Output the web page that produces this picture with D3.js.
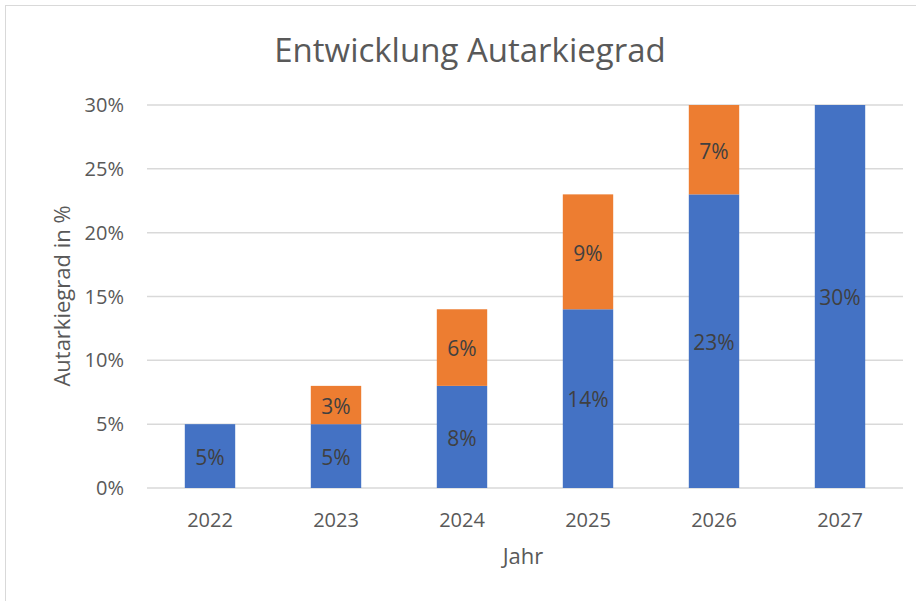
<!DOCTYPE html>
<html>
<head>
<meta charset="utf-8">
<script src="https://cdn.jsdelivr.net/npm/d3@7"></script>
<style>
  body { margin: 0; background: #fff; }
  text { font-family: "Open Sans", sans-serif; }
</style>
</head>
<body>
<div class="chart"></div>
<script>
var years = ['2022', '2023', '2024', '2025', '2026', '2027'];
var baseValues = [5, 5, 8, 14, 23, 30];
var addValues = [0, 3, 6, 9, 7, 0];
var yTicks = [0, 5, 10, 15, 20, 25, 30];
var seriesColors = ['#4472C4', '#ED7D31'];

var width = 916, height = 601,
    margin = { top: 105, right: 13, bottom: 113, left: 147 };

var svg = d3.select('.chart').append('svg')
    .attr('width', width)
    .attr('height', height);

svg.append('rect')
    .attr('x', 5.5).attr('y', 5.5)
    .attr('width', 940).attr('height', 640)
    .attr('fill', '#fff')
    .attr('stroke', '#d9d9d9');

var x = d3.scaleBand()
    .domain(years)
    .range([margin.left, width - margin.right])
    .paddingInner(0.6)
    .paddingOuter(0.3);

var y = d3.scaleLinear()
    .domain([0, 30])
    .range([height - margin.bottom, margin.top]);

// gridlines
svg.append('g')
  .selectAll('line')
    .data(yTicks)
  .enter().append('line')
    .attr('x1', margin.left)
    .attr('x2', width - margin.right)
    .attr('y1', function(d){ return y(d); })
    .attr('y2', function(d){ return y(d); })
    .attr('stroke', '#d9d9d9')
    .attr('stroke-width', 1.5);

// stacked data
var rows = years.map(function(yr, i){
  return { year: yr, base: baseValues[i], add: addValues[i] };
});
var stack = d3.stack().keys(['base', 'add'])(rows);

var layers = svg.append('g')
  .selectAll('g')
    .data(stack)
  .enter().append('g')
    .attr('fill', function(d, i){ return seriesColors[i]; });

var segs = layers.selectAll('g')
    .data(function(d){ return d.filter(function(s){ return s[1] - s[0] > 0; }); })
  .enter().append('g');

segs.append('rect')
    .attr('x', function(d){ return x(d.data.year); })
    .attr('width', x.bandwidth())
    .attr('y', function(d){ return y(d[1]); })
    .attr('height', function(d){ return y(d[0]) - y(d[1]); });

segs.append('text')
    .attr('x', function(d){ return x(d.data.year) + x.bandwidth() / 2; })
    .attr('y', function(d){ return (y(d[0]) + y(d[1])) / 2 + 1.5; })
    .attr('dy', '0.35em')
    .attr('text-anchor', 'middle')
    .attr('fill', '#404040')
    .attr('font-size', 21)
    .text(function(d){ return (d[1] - d[0]) + '%'; });

// y axis labels
svg.append('g')
  .selectAll('text')
    .data(yTicks)
  .enter().append('text')
    .attr('x', 124)
    .attr('y', function(d){ return y(d); })
    .attr('dy', '0.35em')
    .attr('text-anchor', 'end')
    .attr('fill', '#595959')
    .attr('font-size', 20)
    .text(function(d){ return d + '%'; });

// x axis labels
svg.append('g')
  .selectAll('text')
    .data(years)
  .enter().append('text')
    .attr('x', function(d){ return x(d) + x.bandwidth() / 2; })
    .attr('y', 520)
    .attr('dy', '0.35em')
    .attr('text-anchor', 'middle')
    .attr('fill', '#595959')
    .attr('font-size', 20)
    .text(function(d){ return d; });

svg.append('text')
    .attr('x', 470).attr('y', 50)
    .attr('dy', '0.35em')
    .attr('text-anchor', 'middle')
    .attr('fill', '#595959')
    .attr('font-size', 33)
    .text('Entwicklung Autarkiegrad');

svg.append('text')
    .attr('x', 523).attr('y', 556)
    .attr('dy', '0.35em')
    .attr('text-anchor', 'middle')
    .attr('fill', '#595959')
    .attr('font-size', 22)
    .text('Jahr');

svg.append('text')
    .attr('transform', 'translate(62,296) rotate(-90)')
    .attr('dy', '0.35em')
    .attr('text-anchor', 'middle')
    .attr('fill', '#595959')
    .attr('font-size', 22)
    .text('Autarkiegrad in %');
</script>
</body>
</html>
